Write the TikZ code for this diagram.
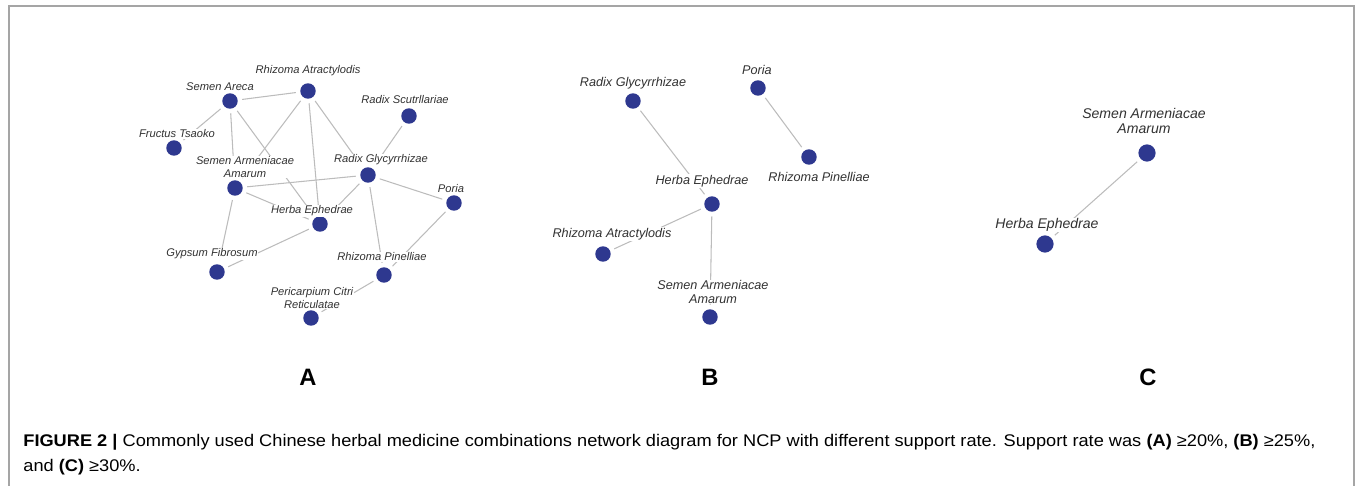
\documentclass[tikz,border=0pt]{standalone}
\usepackage{fontspec}
\setmainfont{Liberation Sans}
\usepackage{tikz}

\definecolor{dotblue}{RGB}{46,56,143}
\definecolor{edgegray}{RGB}{188,188,188}
\definecolor{framegray}{RGB}{165,165,165}
\definecolor{labelgray}{RGB}{50,50,50}

\begin{document}
\begin{tikzpicture}[x=0.02cm,y=-0.02cm,
    herb/.style={circle,fill=dotblue,inner sep=0pt,minimum size=8.8pt,outer sep=2.6pt},
    link/.style={edgegray,line width=0.6pt},
    tag/.style={fill=white,inner sep=0.4pt,text=labelgray,align=center},
    tagA/.style={tag,font=\fontsize{6.35}{6.9}\selectfont\itshape},
    tagB/.style={tag,font=\fontsize{7.2}{7.5}\selectfont\itshape},
    tagC/.style={tag,font=\fontsize{8}{8.6}\selectfont\itshape},
    panel/.style={font=\fontsize{13.5}{14}\selectfont\bfseries},
    caption/.style={anchor=west,inner sep=0pt,xscale=1.08,transform shape,font=\fontsize{9.6}{11}\selectfont}]

        % Page size and frame
        \useasboundingbox (0,0) rectangle (1357,486);
        \draw[framegray,line width=0.8pt] (9,486) -- (9,6) -- (1354,6) -- (1354,486);

        % Panel A: herbs
        \node[herb] (a-sa)  at (230,101) {};
        \node[herb] (a-ra)  at (308,91)  {};
        \node[herb] (a-rs)  at (409,116) {};
        \node[herb] (a-ft)  at (174,148) {};
        \node[herb] (a-saa) at (235,188) {};
        \node[herb] (a-rg)  at (368,175) {};
        \node[herb] (a-po)  at (454,203) {};
        \node[herb] (a-he)  at (320,224) {};
        \node[herb] (a-gf)  at (217,272) {};
        \node[herb] (a-rp)  at (384,275) {};
        \node[herb] (a-pc)  at (311,318) {};

        % Panel A: combinations
        \draw[link] (a-sa) -- (a-ft);
        \draw[link] (a-sa) -- (a-ra);
        \draw[link] (a-sa) -- (a-saa);
        \draw[link] (a-sa) -- (a-he);
        \draw[link] (a-ra) -- (a-saa);
        \draw[link] (a-ra) -- (a-he);
        \draw[link] (a-ra) -- (a-rg);
        \draw[link] (a-rs) -- (a-rg);
        \draw[link] (a-rg) -- (a-saa);
        \draw[link] (a-rg) -- (a-he);
        \draw[link] (a-rg) -- (a-po);
        \draw[link] (a-rg) -- (a-rp);
        \draw[link] (a-saa) -- (a-he);
        \draw[link] (a-saa) -- (a-gf);
        \draw[link] (a-he) -- (a-gf);
        \draw[link] (a-po) -- (a-rp);
        \draw[link] (a-rp) -- (a-pc);

        % Panel A: labels
        \node[tagA] (a-sa-t)  at (220,87)  {Semen Areca};
        \node[tagA] (a-ra-t)  at (308,71)  {Rhizoma Atractylodis};
        \node[tagA] (a-rs-t)  at (405,100) {Radix Scutrllariae};
        \node[tagA] (a-ft-t)  at (177,134) {Fructus Tsaoko};
        \node[tagA] (a-saa-t) at (245,167) {Semen Armeniacae\\Amarum};
        \node[tagA] (a-rg-t)  at (381,160) {Radix Glycyrrhizae};
        \node[tagA] (a-po-t)  at (451,189) {Poria};
        \node[tagA] (a-he-t)  at (312,211) {Herba Ephedrae};
        \node[tagA] (a-gf-t)  at (212,254) {Gypsum Fibrosum};
        \node[tagA] (a-rp-t)  at (382,257) {Rhizoma Pinelliae};
        \node[tagA] (a-pc-t)  at (312,298) {Pericarpium Citri\\Reticulatae};

        % Panel B
        \node[herb] (b-rg)  at (633,101) {};
        \node[herb] (b-po)  at (758,88)  {};
        \node[herb] (b-rp)  at (809,157) {};
        \node[herb] (b-he)  at (712,204) {};
        \node[herb] (b-ra)  at (603,254) {};
        \node[herb] (b-saa) at (710,317) {};

        \draw[link] (b-rg) -- (b-he);
        \draw[link] (b-po) -- (b-rp);
        \draw[link] (b-he) -- (b-ra);
        \draw[link] (b-he) -- (b-saa);

        \node[tagB] (b-rg-t)  at (633,83)  {Radix Glycyrrhizae};
        \node[tagB] (b-po-t)  at (757,70)  {Poria};
        \node[tagB] (b-rp-t)  at (819,177) {Rhizoma Pinelliae};
        \node[tagB] (b-he-t)  at (702,181) {Herba Ephedrae};
        \node[tagB] (b-ra-t)  at (612,234) {Rhizoma Atractylodis};
        \node[tagB] (b-saa-t) at (713,292) {Semen Armeniacae\\Amarum};

        % Panel C
        \node[herb,minimum size=9.8pt] (c-saa) at (1147,153) {};
        \node[herb,minimum size=9.8pt] (c-he)  at (1045,244) {};

        \draw[link] (c-saa) -- (c-he);

        \node[tagC] (c-saa-t) at (1144,121) {Semen Armeniacae\\Amarum};
        \node[tagC] (c-he-t)  at (1047,225) {Herba Ephedrae};

        % Panel letters
        \node[panel] (lab-a) at (308,377) {A};
        \node[panel] (lab-b) at (710,377) {B};
        \node[panel] (lab-c) at (1148,377) {C};

        % Caption
        \node[caption] (cap1) at (23,442)
            {\textbf{FIGURE 2 |} Commonly used Chinese herbal medicine combinations network diagram for NCP with different support rate. Support rate was \textbf{(A)} ≥20\%, \textbf{(B)} ≥25\%,};
        \node[caption] (cap2) at (23,467)
            {and \textbf{(C)} ≥30\%.};

    \end{tikzpicture}
\end{document}
